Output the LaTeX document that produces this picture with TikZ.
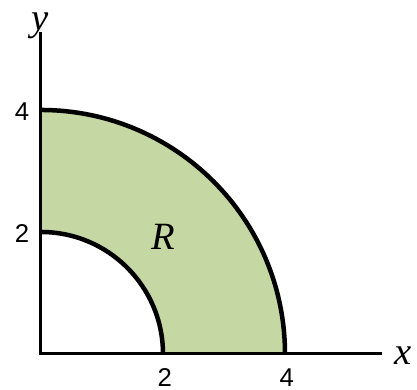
\documentclass[tikz,border=0pt]{standalone}
\usepackage{fontspec}
\setmainfont{Liberation Sans}
\newfontfamily\varfont{Liberation Serif}
\usetikzlibrary{arrows.meta}
\definecolor{regiongreen}{RGB}{197,216,163}
\tikzset{
  ticklabel/.style={font=\fontsize{12}{14}\selectfont},
  varlabel/.style={font=\varfont\itshape\fontsize{18}{20}\selectfont},
}

\begin{document}
\begin{tikzpicture}[scale=1]
			\useasboundingbox (-0.672,-0.59) rectangle (6.164,5.803);
			% the region R between the two quarter circles
			\fill[regiongreen] (2,0) -- (4,0) arc (0:90:4) -- (0,2) arc (90:0:2) -- cycle;
			% axes
			\draw[line width=1.4pt] (0,5.28) -- (0,0) -- (5.59,0);
			% boundary arcs
			\draw[line width=2.1pt] (4,0) arc (0:90:4);
			\draw[line width=2.1pt] (2,0) arc (0:90:2);
			% tick labels
			\node[ticklabel] (x2) at (2.03,-0.38) {2};
			\node[ticklabel] (x4) at (4.03,-0.38) {4};
			\node[ticklabel] (y2) at (-0.31,1.97) {2};
			\node[ticklabel] (y4) at (-0.31,3.97) {4};
			% labels
			\node[varlabel] (xlab) at (5.93,-0.03) {x};
			\node[varlabel] (ylab) at (-0.02,5.38) {y};
			\node[varlabel] (rlab) at (2.0,1.92) {R};
		\end{tikzpicture}
\end{document}
